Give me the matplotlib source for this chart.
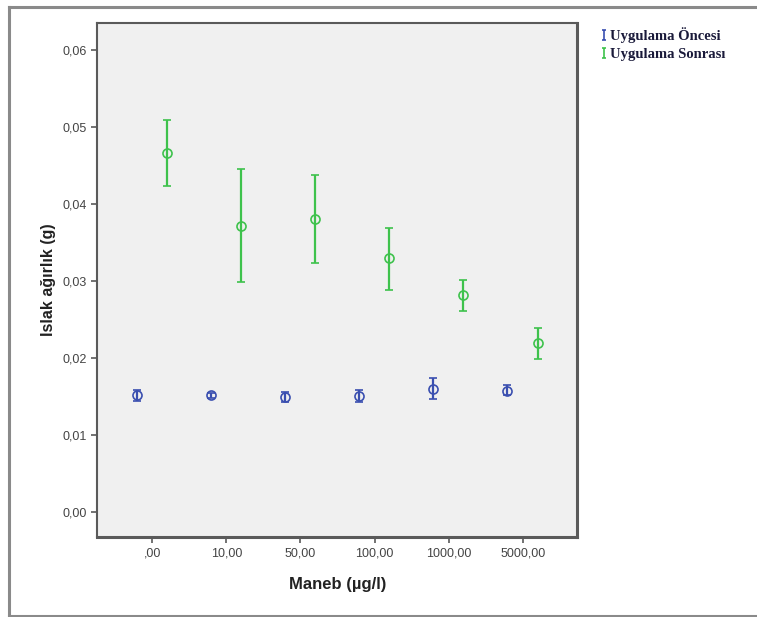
import matplotlib
matplotlib.use("Agg")
import matplotlib.pyplot as plt
from matplotlib.lines import Line2D
from matplotlib.path import Path
from matplotlib.ticker import FuncFormatter
import numpy as np

# Maneb doses (x categories)
categories = [",00", "10,00", "50,00", "100,00", "1000,00", "5000,00"]

# Uygulama Öncesi (before treatment): mean and error bar ends
once_mean = [0.0151, 0.0151, 0.0149, 0.0150, 0.0160, 0.0157]
once_hi = [0.0158, 0.0154, 0.0156, 0.0158, 0.0174, 0.0164]
once_lo = [0.0144, 0.0148, 0.0142, 0.0143, 0.0146, 0.0151]

# Uygulama Sonrası (after treatment)
sonra_mean = [0.0466, 0.0371, 0.0380, 0.0329, 0.0281, 0.0219]
sonra_hi = [0.0509, 0.0445, 0.0437, 0.0369, 0.0301, 0.0239]
sonra_lo = [0.0423, 0.0298, 0.0323, 0.0288, 0.0261, 0.0199]

blue = "#3a4fb0"
green = "#3ec24c"
axis_col = "#5a5a5a"

fig = plt.figure(figsize=(7.57, 6.17), dpi=100)
ax = fig.add_axes([0.1285, 0.1302, 0.6341, 0.8325])
ax.set_facecolor("#f0f0f0")

idx = np.arange(len(categories))


def draw(offset, mean, lo, hi, color):
    mean = np.array(mean)
    err = [mean - np.array(lo), np.array(hi) - mean]
    ax.errorbar(idx + offset, mean, yerr=err, fmt="o", color=color,
                mfc="none", mec=color, ms=6.5, mew=1.2, elinewidth=1.6,
                capsize=3, capthick=1.6)


draw(-0.207, once_mean, once_lo, once_hi, blue)
draw(0.2, sonra_mean, sonra_lo, sonra_hi, green)

ax.set_xlim(-0.742, 5.737)
ax.set_ylim(-0.00325, 0.0635)
ax.set_xticks(idx)
ax.set_xticklabels(categories)
ax.set_yticks(np.arange(0, 0.061, 0.01))
ax.yaxis.set_major_formatter(FuncFormatter(lambda v, p: f"{v:.2f}".replace(".", ",")))

for s in ax.spines.values():
    s.set_color(axis_col)
    s.set_linewidth(1.5)
ax.spines["right"].set_linewidth(2.2)
ax.spines["bottom"].set_linewidth(2.2)
ax.tick_params(direction="out", length=4, width=1.2, color=axis_col,
               labelcolor="#444444", labelsize=9)
for lab in ax.get_xticklabels() + ax.get_yticklabels():
    lab.set_family("Liberation Sans")

ax.set_xlabel("Maneb (µg/l)", family="Liberation Sans", fontweight="bold",
              fontsize=12, color="#222222", labelpad=13)
ax.set_ylabel("Islak ağırlık (g)", family="Liberation Sans", fontweight="bold",
              fontsize=11.5, color="#222222", labelpad=5)

# I-beam legend marker
ibeam = Path([(-0.5, 1), (0.5, 1), (0, 1), (0, -1), (-0.5, -1), (0.5, -1)],
             [Path.MOVETO, Path.LINETO, Path.MOVETO, Path.LINETO, Path.MOVETO, Path.LINETO])
handles = [
    Line2D([], [], ls="none", marker=ibeam, ms=7, mew=1.2, color=blue),
    Line2D([], [], ls="none", marker=ibeam, ms=7, mew=1.2, color=green),
]
fig.legend(handles, ["Uygulama Öncesi", "Uygulama Sonrası"], loc="upper left",
           bbox_to_anchor=(0.785, 0.966), frameon=False, handlelength=0.5,
           handletextpad=0.15, labelspacing=0.38, borderaxespad=0,
           prop={"family": "Liberation Serif", "weight": "bold", "size": 10.5},
           labelcolor="#1a1a3a")

# outer frame
fc = "#8a8a8a"
fig.add_artist(Line2D([9 / 757, 9 / 757], [1 - 7 / 617, 1 - 616 / 617], color=fc, lw=2.2))
fig.add_artist(Line2D([9 / 757, 0.998], [1 - 7 / 617, 1 - 7 / 617], color=fc, lw=2.2))
fig.add_artist(Line2D([9 / 757, 0.998], [1 - 616 / 617, 1 - 616 / 617], color=fc, lw=2.2))

fig.savefig("out.png", dpi=100)
